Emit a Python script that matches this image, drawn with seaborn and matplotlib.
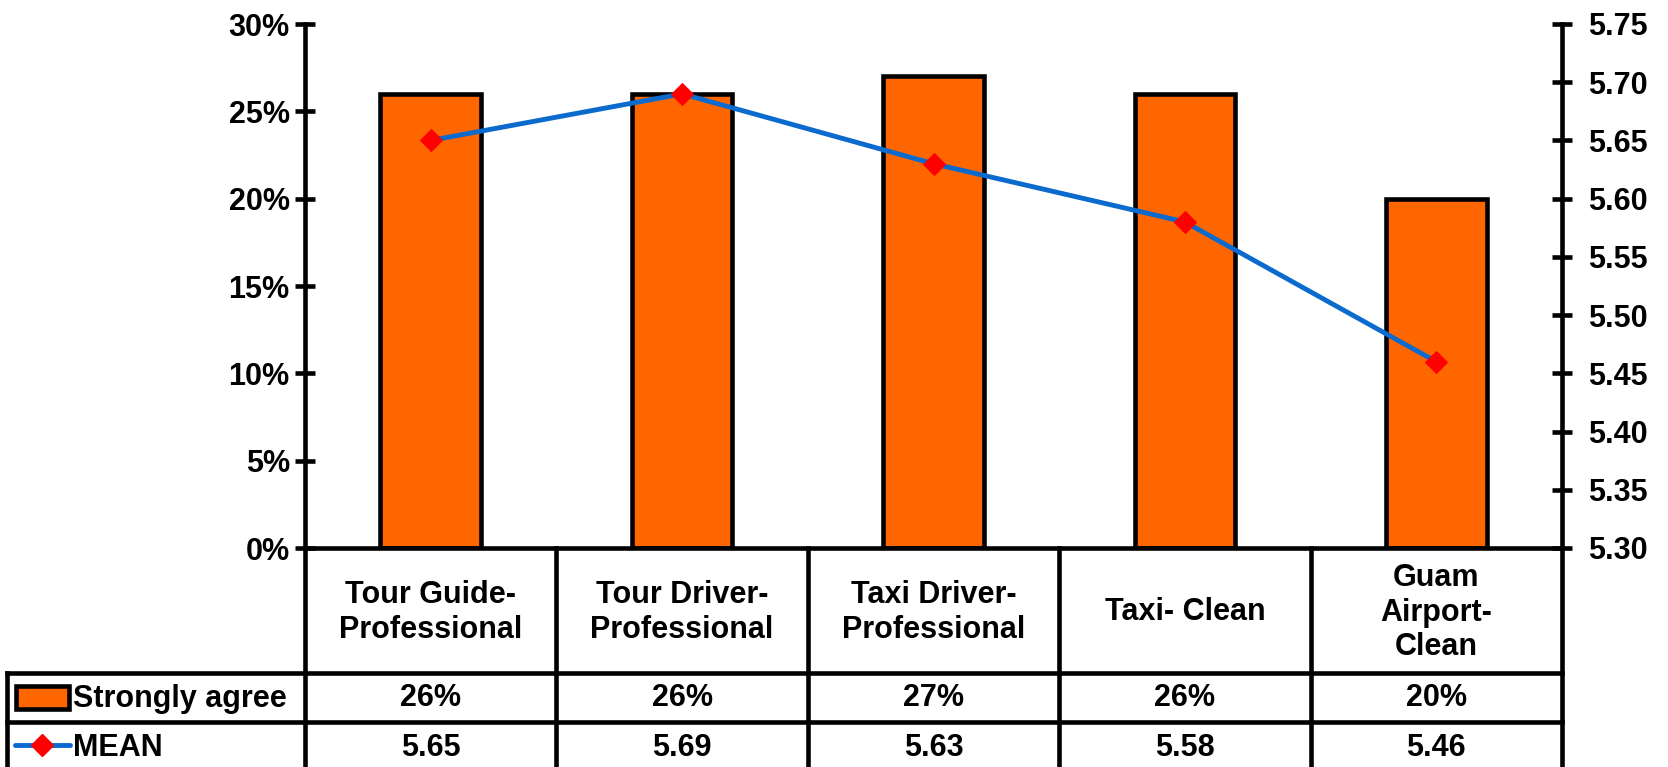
import numpy as np
import pandas as pd
import matplotlib
matplotlib.use("Agg")
import matplotlib.pyplot as plt
from matplotlib.ticker import PercentFormatter, MultipleLocator, FormatStrFormatter
from matplotlib.patches import Rectangle
from matplotlib.lines import Line2D
import seaborn as sns

# -----------------------------
# Data
# -----------------------------
categories = ["Tour Guide-\nProfessional", "Tour Driver-\nProfessional",
              "Taxi Driver-\nProfessional", "Taxi- Clean", "Guam\nAirport-\nClean"]
strongly_agree = [0.26, 0.26, 0.27, 0.26, 0.20]
mean_scores = [5.65, 5.69, 5.63, 5.58, 5.46]
bar_label = "Strongly agree"
line_label = "MEAN"

BAR_COLOR = "#FF6600"
LINE_COLOR = "#0A6ACD"
MARK_COLOR = "#FF0000"
LW = 3.3

sns.set_theme(style="white")
plt.rcParams["font.family"] = ["Liberation Sans", "DejaVu Sans"]
plt.rcParams["font.weight"] = "bold"
plt.rcParams["text.color"] = "black"
plt.rcParams["ytick.color"] = "black"
plt.rcParams["ytick.labelcolor"] = "black"
FS = 22

W, H = 1668, 767
fig = plt.figure(figsize=(W / 100, H / 100), dpi=100)

# pixel layout of the plot area
px_left, px_right, px_top, px_bottom = 305, 1562, 24, 548
ax = fig.add_axes([px_left / W, 1 - px_bottom / H,
                   (px_right - px_left) / W, (px_bottom - px_top) / H])
ax.set_facecolor("none")
ax.set_zorder(3)

df = pd.DataFrame({"cat": categories, "val": strongly_agree})
sns.barplot(data=df, x="cat", y="val", color=BAR_COLOR, width=0.4,
            edgecolor="black", linewidth=LW, saturation=1, ax=ax)
ax.set_xlim(-0.5, len(categories) - 0.5)
ax.set_ylim(0, 0.30)
ax.yaxis.set_major_locator(MultipleLocator(0.05))
ax.yaxis.set_major_formatter(PercentFormatter(1.0, decimals=0))
ax.set_xlabel("")
ax.set_ylabel("")
ax.set_xticks([])
ax.tick_params(axis="y", direction="inout", length=14, width=LW,
               labelsize=FS, pad=4, left=True, colors="black")
for s in ["top", "right"]:
    ax.spines[s].set_visible(False)
for s in ["left", "bottom"]:
    ax.spines[s].set_linewidth(LW)
    ax.spines[s].set_color("black")
for t in ax.get_yticklabels():
    t.set_fontweight("bold")

ax2 = ax.twinx()
sns.lineplot(x=np.arange(len(categories)), y=mean_scores, ax=ax2,
             color=LINE_COLOR, linewidth=3.5, marker="D", markersize=11,
             markerfacecolor=MARK_COLOR, markeredgecolor=MARK_COLOR)
ax2.set_ylim(5.30, 5.75)
ax2.yaxis.set_major_locator(MultipleLocator(0.05))
ax2.yaxis.set_major_formatter(FormatStrFormatter("%.2f"))
ax2.tick_params(axis="y", direction="inout", length=14, width=LW,
                labelsize=FS, pad=12, right=True, colors="black")
for s in ["top", "left", "bottom"]:
    ax2.spines[s].set_visible(False)
ax2.spines["right"].set_linewidth(LW)
ax2.spines["right"].set_color("black")
for t in ax2.get_yticklabels():
    t.set_fontweight("bold")

# -----------------------------
# Data table under the chart
# -----------------------------
tab = fig.add_axes([0, 0, 1, 1])
tab.set_xlim(0, W)
tab.set_ylim(H, 0)
tab.axis("off")
tab.set_zorder(1)

n = len(categories)
col_w = (px_right - px_left) / n
col_edges = [px_left + i * col_w for i in range(n + 1)]
centers = [px_left + (i + 0.5) * col_w for i in range(n)]
row_head, row1, row2, row_end = px_bottom, 673, 722, H + 5
tab_left = 7

kw = dict(color="black", lw=LW, solid_capstyle="projecting")
# vertical lines
for x in col_edges:
    tab.plot([x, x], [row_head, row_end], **kw)
tab.plot([tab_left, tab_left], [row1, row_end], **kw)
# horizontal lines
tab.plot([tab_left, px_right], [row1, row1], **kw)
tab.plot([tab_left, px_right], [row2, row2], **kw)

for x, lab in zip(centers, categories):
    tab.text(x, (row_head + row1) / 2 + 2, lab, ha="center", va="center",
             fontsize=FS, fontweight="bold", linespacing=1.2)
for x, v in zip(centers, strongly_agree):
    tab.text(x, (row1 + row2) / 2 + 1, f"{v * 100:.0f}%", ha="center",
             va="center", fontsize=FS, fontweight="bold")
for x, v in zip(centers, mean_scores):
    tab.text(x, (row2 + H) / 2 + 4, f"{v:.2f}", ha="center",
             va="center", fontsize=FS, fontweight="bold")

# legend keys
tab.add_patch(Rectangle((16, 686), 53, 23, facecolor=BAR_COLOR,
                        edgecolor="black", lw=LW))
tab.text(73, (row1 + row2) / 2 + 1, bar_label, ha="left", va="center",
         fontsize=FS, fontweight="bold")
tab.add_line(Line2D([15, 70], [745, 745], color=LINE_COLOR, lw=3.5))
tab.plot([42], [745], marker="D", markersize=11, color=MARK_COLOR)
tab.text(73, (row2 + H) / 2 + 4, line_label, ha="left", va="center",
         fontsize=FS, fontweight="bold")

fig.savefig("out.png", dpi=100)
